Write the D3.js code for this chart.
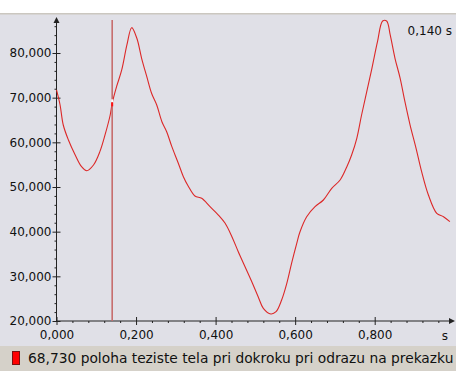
<!DOCTYPE html>
<html>
<head>
<meta charset="utf-8">
<script src="https://cdn.jsdelivr.net/npm/d3@7"></script>
<style>
  html, body { margin: 0; padding: 0; background: #ffffff; }
  svg { display: block; }
  text { font-family: "DejaVu Sans", sans-serif; }
</style>
</head>
<body>
<svg id="chart" width="456" height="371"></svg>
<script>
// Sampled track: time (s) and position of the body's centre of gravity
const times = [0.000, 0.009, 0.017, 0.030, 0.047, 0.063, 0.076, 0.093, 0.109, 0.122, 0.135,
  0.140, 0.151, 0.164, 0.177, 0.189, 0.202, 0.214, 0.227, 0.239, 0.252, 0.265, 0.277, 0.290,
  0.306, 0.319, 0.331, 0.348, 0.365, 0.386, 0.407, 0.424, 0.441, 0.457, 0.474, 0.491, 0.507,
  0.520, 0.539, 0.552, 0.566, 0.579, 0.591, 0.604, 0.612, 0.629, 0.650, 0.671, 0.692, 0.713,
  0.730, 0.742, 0.755, 0.767, 0.780, 0.793, 0.807, 0.820, 0.830, 0.839, 0.851, 0.864, 0.876,
  0.889, 0.904, 0.918, 0.935, 0.956, 0.973, 0.989];
const values = [71.72, 68.36, 63.88, 60.52, 57.17, 54.55, 53.65, 54.93, 57.91, 61.66, 66.12,
  68.73, 72.46, 76.20, 81.80, 85.67, 83.30, 78.82, 74.70, 70.98, 68.36, 64.62, 62.38, 59.03,
  55.38, 52.31, 50.23, 47.99, 47.47, 45.59, 43.73, 41.87, 38.87, 35.52, 32.16, 28.80, 25.44,
  22.84, 21.57, 22.08, 24.70, 28.44, 32.92, 37.40, 39.93, 43.35, 45.59, 47.09, 49.71, 51.57,
  54.55, 57.17, 60.91, 66.12, 71.34, 76.58, 82.54, 87.17, 87.17, 84.04, 78.82, 74.34, 69.10,
  63.88, 58.67, 53.43, 48.21, 44.11, 43.35, 42.23];

const xTicks = [0, 0.2, 0.4, 0.6, 0.8];
const yTicks = [20, 30, 40, 50, 60, 70, 80];
const cursorTime = 0.140;
const cursorValue = 68.730;
const seriesName = "poloha teziste tela pri dokroku pri odrazu na prekazku";
const unitLabel = "s";

const locale = d3.formatLocale({ decimal: ",", thousands: " ", grouping: [3], currency: ["", ""] });
const fmt3 = locale.format(".3f");

const svg = d3.select("#chart");
const W = 456, H = 371;

// frame: white strip, plot panel, legend bar
svg.append("rect").attr("x", 0).attr("y", 0).attr("width", W).attr("height", H).attr("fill", "#ffffff");
svg.append("rect").attr("x", 0).attr("y", 13).attr("width", W).attr("height", 333).attr("fill", "#e0e0e7");
svg.append("rect").attr("x", 0).attr("y", 13).attr("width", W).attr("height", 1.5).attr("fill", "#cbc7c0");
svg.append("rect").attr("x", 0).attr("y", 346).attr("width", W).attr("height", 25).attr("fill", "#d5d1c9");

const x = d3.scaleLinear().domain([0, 0.8]).range([56.5, 374.7]);
const y = d3.scaleLinear().domain([20, 80]).range([321, 53]);
const x0 = x(0), y0 = y(20);
const axisColor = "#222";

// minor ticks
const xMinor = d3.range(0, 1.0001, 0.04).filter(v => !xTicks.some(t => Math.abs(t - v) < 1e-6) && x(v) < 450);
const yMinor = d3.range(20, 87.001, 2).filter(v => v % 10 !== 0 && y(v) > 22);

const gx = svg.append("g").attr("transform", `translate(0,${y0})`);
gx.call(d3.axisBottom(x).tickValues(xMinor).tickSize(2).tickFormat(""));
gx.call(g => g.select(".domain").remove());
const gx2 = svg.append("g").attr("transform", `translate(0,${y0})`);
gx2.call(d3.axisBottom(x).tickValues(xTicks).tickSize(4).tickPadding(5).tickFormat(fmt3));
gx2.call(g => g.select(".domain").remove());
gx2.selectAll(".tick line").attr("y1", -4);

const gy = svg.append("g").attr("transform", `translate(${x0},0)`);
gy.call(d3.axisLeft(y).tickValues(yMinor).tickSize(2).tickFormat(""));
gy.call(g => g.select(".domain").remove());
const gy2 = svg.append("g").attr("transform", `translate(${x0},0)`);
gy2.call(d3.axisLeft(y).tickValues(yTicks).tickSize(4).tickPadding(1).tickFormat(fmt3));
gy2.call(g => g.select(".domain").remove());
gy2.selectAll(".tick line").attr("x1", 4);

[gx, gx2, gy, gy2].forEach(g => {
  g.selectAll("line").attr("stroke", axisColor).attr("stroke-width", 1);
  g.selectAll("text").attr("fill", "#111").style("font-size", "12px").style("font-family", "DejaVu Sans, sans-serif");
});

// axis lines with arrowheads
svg.append("line").attr("x1", x0).attr("x2", 452).attr("y1", y0).attr("y2", y0)
  .attr("stroke", axisColor).attr("stroke-width", 1);
svg.append("path").attr("d", `M455,${y0} L449,${y0 - 3} L449,${y0 + 3} Z`).attr("fill", axisColor);
svg.append("line").attr("x1", x0).attr("x2", x0).attr("y1", 20).attr("y2", y0)
  .attr("stroke", axisColor).attr("stroke-width", 1);
svg.append("path").attr("d", `M${x0},17 L${x0 - 3},23 L${x0 + 3},23 Z`).attr("fill", axisColor);

svg.append("text").attr("x", 445).attr("y", 340).attr("text-anchor", "middle")
  .style("font-size", "12px").attr("fill", "#111").text(unitLabel);

// data line
const pts = times.map((t, i) => [t, values[i]]);
svg.append("path").datum(pts)
  .attr("fill", "none").attr("stroke", "#dc2828").attr("stroke-width", 1.1)
  .attr("d", d3.line().curve(d3.curveCatmullRom.alpha(0.5)).x(d => x(d[0])).y(d => y(d[1])));

// cursor
const cx = x(cursorTime);
svg.append("line").attr("x1", cx).attr("x2", cx).attr("y1", 20).attr("y2", y0)
  .attr("stroke", "#c76d6d").attr("stroke-width", 1.6);
svg.append("rect").attr("x", cx - 1).attr("y", y(cursorValue) - 4).attr("width", 2).attr("height", 3).attr("fill", "#ffffff");
svg.append("rect").attr("x", cx - 1).attr("y", y(cursorValue) - 1).attr("width", 2).attr("height", 4).attr("fill", "#ff1010");

svg.append("text").attr("x", 452).attr("y", 35).attr("text-anchor", "end")
  .style("font-size", "12px").attr("fill", "#111").text(fmt3(cursorTime) + " " + unitLabel);

// legend
svg.append("rect").attr("x", 12.5).attr("y", 351.5).attr("width", 7).attr("height", 13)
  .attr("fill", "#ff0000").attr("stroke", "#7a1010").attr("stroke-width", 1);
svg.append("text").attr("x", 28).attr("y", 363)
  .style("font-size", "13.8px").attr("fill", "#111")
  .text(fmt3(cursorValue) + " " + seriesName);
</script>
</body>
</html>
